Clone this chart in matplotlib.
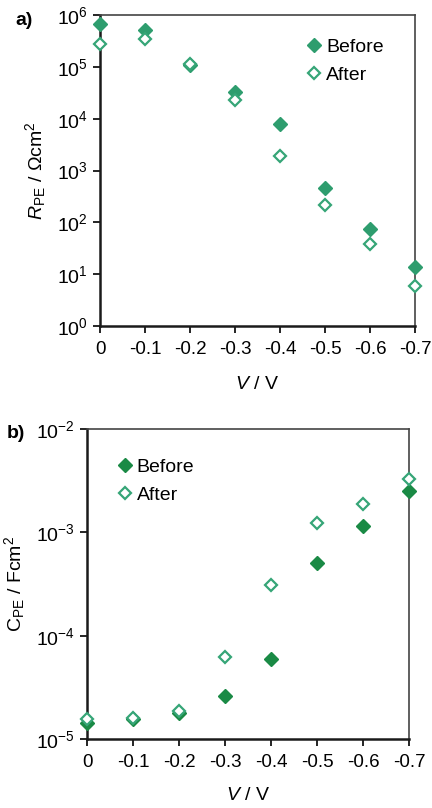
import matplotlib.pyplot as plt
from matplotlib.ticker import LogLocator, NullLocator

plt.rcParams['font.family'] = ['Liberation Sans', 'DejaVu Sans']
plt.rcParams['mathtext.fontset'] = 'custom'
plt.rcParams['mathtext.rm'] = 'Liberation Sans'
plt.rcParams['mathtext.it'] = 'Liberation Sans:italic'

# panel a: R_PE (Ohm cm^2)
volt = [0, -0.1, -0.2, -0.3, -0.4, -0.5, -0.6, -0.7]
r_before = [6.8e5, 5.2e5, 1.1e5, 3.3e4, 7.9e3, 460, 76, 13.8]
r_after = [2.8e5, 3.5e5, 1.15e5, 2.3e4, 1.9e3, 217, 39, 6.0]

# panel b: C_PE (F cm^2)
c_before = [1.44e-5, 1.55e-5, 1.8e-5, 2.6e-5, 5.9e-5, 5.0e-4, 1.14e-3, 2.5e-3]
c_after = [1.55e-5, 1.6e-5, 1.85e-5, 6.2e-5, 3.1e-4, 1.22e-3, 1.9e-3, 3.27e-3]

xticks = [0, -0.1, -0.2, -0.3, -0.4, -0.5, -0.6, -0.7]
xticklabels = ['0', '-0.1', '-0.2', '-0.3', '-0.4', '-0.5', '-0.6', '-0.7']

col_a = '#2e9d6e'
col_b = '#1a8a45'
col_open = '#36a577'

fig = plt.figure(figsize=(4.32, 8.08), dpi=100)
ax1 = fig.add_axes([0.2315, 0.5965, 0.7291, 0.3849])
ax2 = fig.add_axes([0.2014, 0.0854, 0.7454, 0.3836])


def style(ax):
    ax.set_yscale('log')
    ax.set_xlim(0, -0.7)
    ax.set_xticks(xticks)
    ax.set_xticklabels(xticklabels)
    ax.yaxis.set_minor_locator(NullLocator())
    ax.tick_params(direction='out', length=5, width=1.2, labelsize=13.5, pad=6)
    ax.tick_params(axis='y', labelsize=14, pad=4)
    for s in ['left', 'bottom']:
        ax.spines[s].set_linewidth(1.8)
        ax.spines[s].set_color('#1a1a1a')
    for s in ['top', 'right']:
        ax.spines[s].set_linewidth(1.2)
        ax.spines[s].set_color('#444444')


ms = 7.5
ax1.plot(volt, r_before, 'D', color=col_a, ms=ms, mec=col_a, clip_on=False, zorder=3, label='Before')
ax1.plot(volt, r_after, 'D', mfc='white', mec=col_open, mew=1.6, ms=ms - 1, clip_on=False, zorder=3, label='After')
style(ax1)
ax1.set_ylim(1, 1e6)
ax1.yaxis.set_major_locator(LogLocator(base=10, numticks=10))
ax1.set_ylabel(r'$R_{\rm PE}$ / $\Omega$cm$^2$', fontsize=14, labelpad=6)
ax1.set_xlabel(r'$V$ / V', fontsize=14, labelpad=13)
ax1.legend(loc='upper left', bbox_to_anchor=(0.6, 0.97), frameon=False, fontsize=14,
           handletextpad=0.0, handlelength=1.2, labelspacing=0.55, borderaxespad=0.3)
ax1.text(-0.27, 0.984, 'a)', transform=ax1.transAxes, fontsize=14, fontweight='bold', va='center')

ax2.plot(volt, c_before, 'D', color=col_b, ms=ms, mec=col_b, clip_on=False, zorder=3, label='Before')
ax2.plot(volt, c_after, 'D', mfc='white', mec=col_open, mew=1.6, ms=ms - 1, clip_on=False, zorder=3, label='After')
style(ax2)
ax2.set_ylim(1e-5, 1e-2)
ax2.yaxis.set_major_locator(LogLocator(base=10, numticks=10))
ax2.set_ylabel(r'C$_{\rm PE}$ / Fcm$^2$', fontsize=14, labelpad=6)
ax2.set_xlabel(r'$V$ / V', fontsize=14, labelpad=11)
ax2.legend(loc='upper left', bbox_to_anchor=(0.04, 0.95), frameon=False, fontsize=14,
           handletextpad=0.0, handlelength=1.2, labelspacing=0.55, borderaxespad=0.3)
ax2.text(-0.25, 0.987, 'b)', transform=ax2.transAxes, fontsize=14, fontweight='bold', va='center')

fig.savefig('out.png', dpi=100)
